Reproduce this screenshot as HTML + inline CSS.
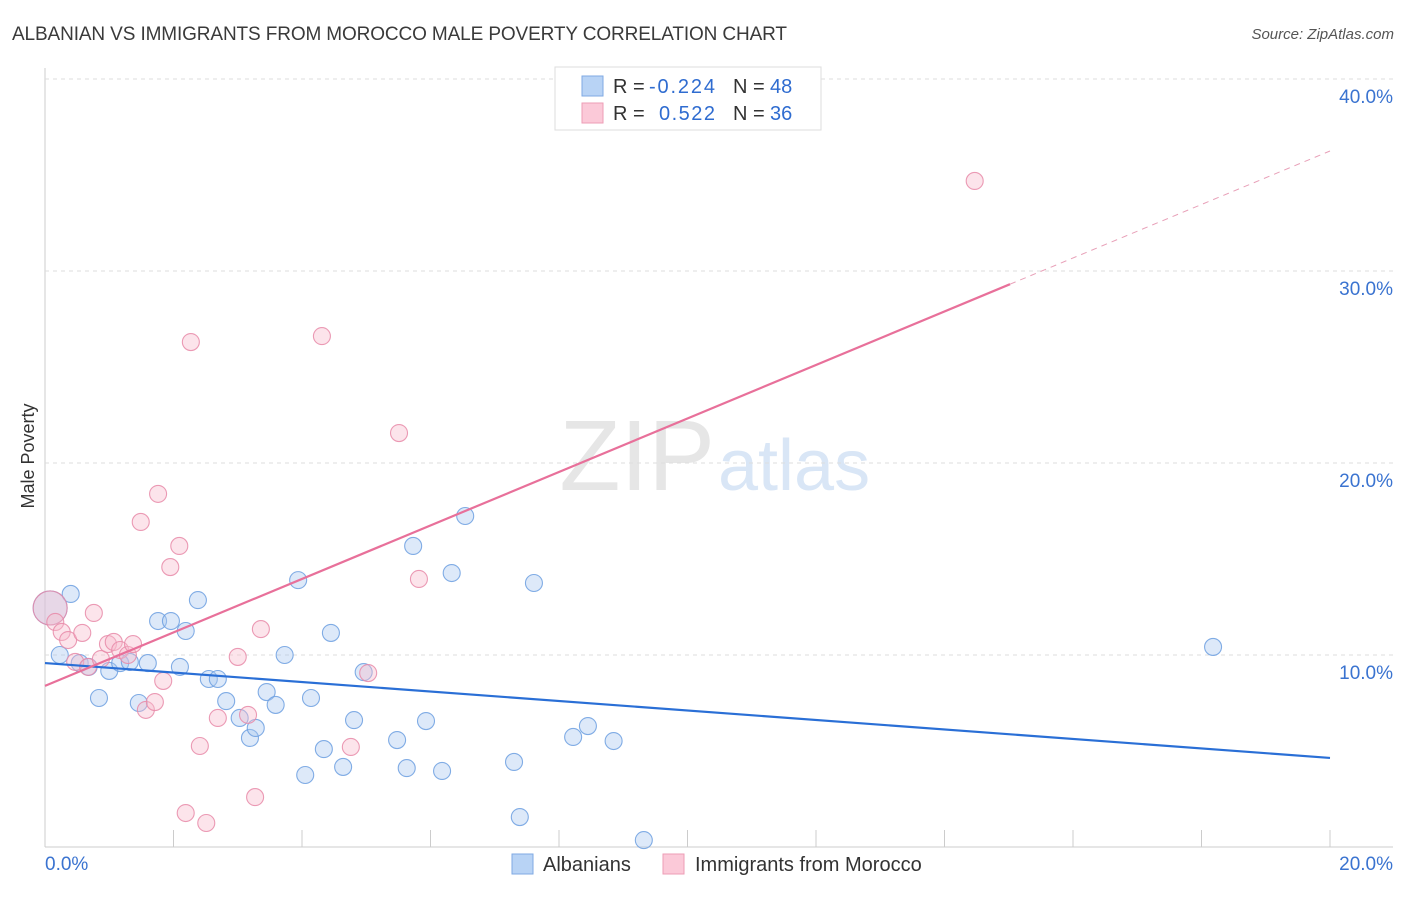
<!DOCTYPE html>
<html><head><meta charset="utf-8"><style>
body{margin:0;background:#fff;font-family:"Liberation Sans",sans-serif;}
svg text{font-family:"Liberation Sans",sans-serif;}
</style></head><body>
<svg id="c" width="1406" height="892" xmlns="http://www.w3.org/2000/svg">
<text x="12" y="40" font-size="19" fill="#3a3a3a" textLength="775">ALBANIAN VS IMMIGRANTS FROM MOROCCO MALE POVERTY CORRELATION CHART</text>
<text x="1394" y="39" font-size="15" fill="#555" text-anchor="end" font-style="italic">Source: ZipAtlas.com</text>
<text x="715" y="490" font-size="100" fill="#e6e6e6" text-anchor="end" font-family="Liberation Serif">ZIP</text>
<text x="718" y="490" font-size="72" fill="#d9e6f6">atlas</text>
<text transform="translate(34,456) rotate(-90)" font-size="18" fill="#333" text-anchor="middle">Male Poverty</text>
<g id="grid"></g><g id="marks"></g>
<g>
<rect x="555" y="67" width="266" height="63" fill="#fff" stroke="#ddd"/>
<rect x="582" y="76" width="21" height="20" fill="#b8d3f5" stroke="#7fa9e3"/>
<rect x="582" y="103" width="21" height="20" fill="#fbc9d8" stroke="#ee9db6"/>
<text x="613" y="93" font-size="20" fill="#333"><tspan>R = </tspan><tspan fill="#2f6cd0" x="649" textLength="66">-0.224</tspan><tspan x="733">N = </tspan><tspan fill="#2f6cd0" x="770">48</tspan></text>
<text x="613" y="120" font-size="20" fill="#333"><tspan>R = </tspan><tspan fill="#2f6cd0" x="659" textLength="56">0.522</tspan><tspan x="733">N = </tspan><tspan fill="#2f6cd0" x="770">36</tspan></text>
</g>
<g>
<rect x="512" y="854" width="21" height="20" fill="#b8d3f5" stroke="#7fa9e3"/>
<text x="543" y="871" font-size="20" fill="#333">Albanians</text>
<rect x="663" y="854" width="21" height="20" fill="#fbc9d8" stroke="#ee9db6"/>
<text x="695" y="871" font-size="20" fill="#333">Immigrants from Morocco</text>
</g>
</svg>
<script>
const yTicks=[10,20,30,40];
const xTickLabels=["0.0%","20.0%"];
const blueX=[0.08,0.40,0.23,0.54,0.68,0.84,1.0,1.17,1.32,1.46,1.60,1.76,1.96,2.10,2.19,2.38,2.55,2.69,2.82,3.03,3.19,3.28,3.45,3.59,3.73,3.94,4.05,4.14,4.34,4.45,4.64,4.81,4.96,5.48,5.63,5.73,5.93,6.18,6.33,6.54,7.30,7.39,7.61,8.22,8.45,8.85,9.32,18.18];
const blueY=[12.45,13.18,10.0,9.58,9.38,7.76,9.17,9.58,9.64,7.5,9.58,11.77,11.77,9.38,11.25,12.86,8.75,8.75,7.6,6.72,5.68,6.2,8.07,7.4,10.0,13.9,3.75,7.76,5.1,11.15,4.17,6.61,9.11,5.57,4.11,15.68,6.56,3.96,14.27,17.24,4.43,1.56,13.75,5.73,6.3,5.52,0.36,10.42];
const pinkX=[0.08,0.16,0.26,0.36,0.47,0.58,0.67,0.76,0.87,0.98,1.07,1.17,1.29,1.37,1.49,1.57,1.71,1.76,1.84,1.95,2.09,2.19,2.27,2.41,2.51,2.69,3.0,3.16,3.27,3.36,4.31,4.76,5.03,5.51,5.82,14.47];
const pinkY=[12.45,11.72,11.2,10.78,9.64,11.15,9.38,12.19,9.79,10.57,10.68,10.26,10.0,10.57,16.93,7.14,7.55,18.39,8.65,14.58,15.68,1.77,26.3,5.26,1.25,6.72,9.9,6.88,2.6,11.35,26.61,5.21,9.06,21.56,13.96,34.69];
const blueLine=[9.58,4.64];
const pinkLine=[8.39,1.393];
const X=v=>45+v/20*1285, Y=v=>847-v*19.2;
const NS="http://www.w3.org/2000/svg";
function mk(t,a,p){const e=document.createElementNS(NS,t);for(const k in a)e.setAttribute(k,a[k]);p.appendChild(e);return e;}
const g=document.getElementById('grid'), m=document.getElementById('marks');
let ax=mk('line',{x1:45,y1:68,x2:45,y2:847,stroke:'#ccc'},g);


let bx=mk('line',{x1:45,y1:847,x2:1393,y2:847,stroke:'#ccc'},g);


for(let i=1;i<=10;i++){let t=mk('line',{x1:X(i*2),y1:830,x2:X(i*2),y2:847,stroke:'#ccc'},g);

}
yTicks.forEach(v=>{let l=mk('line',{x1:45,y1:Y(v),x2:1393,y2:Y(v),stroke:'#ddd','stroke-dasharray':'4,4'},g);


let t=mk('text',{x:1393,y:Y(v)+24,'font-size':19,fill:'#3a73d0','text-anchor':'end'},g);t.textContent=v.toFixed(1)+'%';

});
xTickLabels.forEach((s,i)=>{let t=mk('text',{x:i?1393:45,y:870,'font-size':19,fill:'#3a73d0','text-anchor':i?'end':'start'},g);t.textContent=s;

});
function pts(xs,ys,fill,stroke,name){xs.forEach((x,i)=>{const r=i===0?17:8.5;let c=mk('circle',{cx:X(x),cy:Y(ys[i]),r:r,fill:fill,'fill-opacity':0.4,stroke:stroke,'stroke-width':1.1,'stroke-opacity':0.85},m);

});}
pts(blueX,blueY,'#a9c8f0','#6c9fe0','albanian-point');
pts(pinkX,pinkY,'#f7bccd','#e88aa8','morocco-point');
let bl=mk('line',{x1:X(0),y1:Y(blueLine[0]),x2:X(20),y2:Y(blueLine[1]),stroke:'#2a6fd6','stroke-width':2.2},m);


const xe=15.02;
let pl=mk('line',{x1:X(0),y1:Y(pinkLine[0]),x2:X(xe),y2:Y(pinkLine[0]+pinkLine[1]*xe),stroke:'#e8709a','stroke-width':2.2},m);


let pd=mk('line',{x1:X(xe),y1:Y(pinkLine[0]+pinkLine[1]*xe),x2:X(20),y2:Y(pinkLine[0]+pinkLine[1]*20),stroke:'#e8a0b8','stroke-width':1,'stroke-dasharray':'6,5'},m);


</script>
</body></html>
